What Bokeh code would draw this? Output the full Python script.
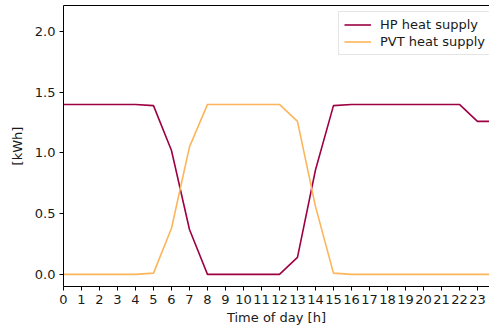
from bokeh.plotting import figure
from bokeh.models import Range1d, FixedTicker, LinearAxis, Legend, LegendItem, NumeralTickFormatter
from bokeh.embed import file_html
from bokeh.resources import INLINE

hours = list(range(25))
hp_heat = [1.40, 1.40, 1.40, 1.40, 1.40, 1.39, 1.02, 0.37, 0.0, 0.0, 0.0, 0.0, 0.0,
           0.14, 0.86, 1.39, 1.40, 1.40, 1.40, 1.40, 1.40, 1.40, 1.40, 1.26, 1.26]
pvt_heat = [0.0, 0.0, 0.0, 0.0, 0.0, 0.01, 0.38, 1.05, 1.40, 1.40, 1.40, 1.40, 1.40,
            1.26, 0.56, 0.01, 0.0, 0.0, 0.0, 0.0, 0.0, 0.0, 0.0, 0.0, 0.0]
x_ticks = list(range(24))
y_ticks = [0.0, 0.5, 1.0, 1.5, 2.0]

FONT = "DejaVu Sans"

p = figure(width=489, height=329, output_backend="svg", toolbar_location=None,
           x_range=Range1d(0, 23.67), y_range=Range1d(-0.1, 2.215),
           min_border_left=63, min_border_right=0, min_border_top=5, min_border_bottom=43)
p.outline_line_color = None
p.background_fill_color = "white"
p.border_fill_color = "white"
p.grid.visible = False

r1 = p.line(hours, hp_heat, line_color="#9e0142", line_width=1.6)
r2 = p.line(hours, pvt_heat, line_color="#fdb55a", line_width=1.6)

for ax in [p.xaxis[0], p.yaxis[0]]:
    ax.major_tick_in = 0
    ax.major_tick_out = 4
    ax.minor_tick_line_color = None
    ax.axis_line_color = "black"
    ax.major_tick_line_color = "black"
    ax.major_label_text_font = FONT
    ax.major_label_text_font_size = "13px"
    ax.major_label_text_color = "#1a1a1a"
    ax.axis_label_text_font = FONT
    ax.axis_label_text_font_size = "13px"
    ax.axis_label_text_font_style = "normal"
    ax.axis_label_text_color = "#1a1a1a"
    ax.major_label_standoff = 4

p.xaxis[0].ticker = FixedTicker(ticks=x_ticks)
p.yaxis[0].ticker = FixedTicker(ticks=y_ticks)
p.yaxis[0].formatter = NumeralTickFormatter(format="0.0")
p.xaxis[0].axis_label = "Time of day [h]"
p.yaxis[0].axis_label = "[kWh]"
p.xaxis[0].axis_label_standoff = 3
p.yaxis[0].axis_label_standoff = 7

top = LinearAxis(ticker=FixedTicker(ticks=[]), major_tick_out=0, major_tick_in=0,
                 minor_tick_line_color=None, major_label_text_font_size="0px",
                 axis_line_color="black", major_label_standoff=0, axis_label_standoff=0)
p.add_layout(top, "above")

legend = Legend(items=[LegendItem(label="HP heat supply", renderers=[r1]),
                       LegendItem(label="PVT heat supply", renderers=[r2])],
                location=(275, 231))
legend.label_text_font = FONT
legend.label_text_font_size = "13px"
legend.label_text_color = "#1a1a1a"
legend.glyph_width = 27
legend.glyph_height = 15
legend.label_height = 15
legend.spacing = 2
legend.padding = 5
legend.margin = 0
legend.label_standoff = 9
legend.border_line_color = "#cccccc"
legend.border_line_width = 1
legend.background_fill_alpha = 0.9
p.add_layout(legend, "center")

open("out.html", "w").write(file_html(p, INLINE))
